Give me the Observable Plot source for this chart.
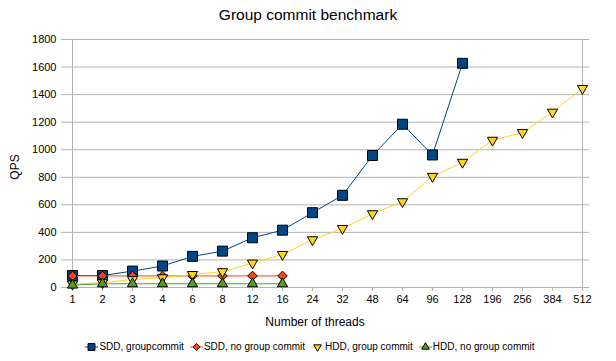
<!DOCTYPE html>
<html><head><meta charset="utf-8">
<script src="https://cdn.jsdelivr.net/npm/d3@7"></script>
<script src="https://cdn.jsdelivr.net/npm/@observablehq/plot@0.6"></script>
<style>
body{margin:0;background:#fff;font-family:"Liberation Sans",Arial,sans-serif;color:#000;}
#wrap{position:relative;width:616px;height:361px;overflow:hidden;}
#chart{position:absolute;left:0;top:0;}
.lbl{position:absolute;white-space:nowrap;}
#title{left:0;top:6px;width:616px;text-align:center;font-size:15.5px;}
#xlabel{left:0;top:315px;width:630px;text-align:center;font-size:12px;}
#ylabel{left:15px;top:167px;font-size:12px;transform:translate(-50%,-50%) rotate(-90deg);}
#legend{position:absolute;left:0;top:341px;width:616px;display:flex;justify-content:center;font-size:10px;line-height:12px;padding-left:2px;}
.item{display:flex;align-items:center;margin:0 3px;}
.item svg{margin-right:1px;}
</style></head><body>
<div id="wrap">
  <div id="chart"></div>
  <div id="title" class="lbl">Group commit benchmark</div>
  <div id="xlabel" class="lbl">Number of threads</div>
  <div id="ylabel" class="lbl">QPS</div>
  <div id="legend"></div>
</div>
<script>
const threads = ["1","2","3","4","6","8","12","16","24","32","48","64","96","128","196","256","384","512"];
const yTicks = [0,200,400,600,800,1000,1200,1400,1600,1800];
const seriesNames = ["SDD, groupcommit","SDD, no group commit","HDD, group commit","HDD, no group commit"];
const sddGroup   = [87, 87, 119, 156, 226, 264, 361, 416, 543, 669, 958, 1185, 962, 1627];
const sddNoGroup = [84, 84, 84, 84, 84, 84, 84, 84];
const hddGroup   = [25, 35, 58, 71, 95, 115, 178, 240, 347, 429, 536, 623, 807, 909, 1069, 1125, 1273, 1445];
const hddNoGroup = [17, 27, 27, 27, 27, 27, 27, 27];

const styles = [
  {color:"#004586", symbol:"square",   r:5.64, rotate:0,   lr:3.9},
  {color:"#ff420e", symbol:"diamond2", r:4.3,  rotate:0,   lr:3.2},
  {color:"#ffd320", symbol:"triangle", r:3.8,  rotate:180, lr:2.8},
  {color:"#579d1c", symbol:"triangle", r:3.8,  rotate:0,   lr:2.8}
];
const allValues = [sddGroup, sddNoGroup, hddGroup, hddNoGroup];
const rows = allValues.map((vals, k) => vals.map((v, i) => ({t: threads[i], v, s: seriesNames[k]})));

const grid = "#b3b3b3";
const marks = [
  Plot.gridY(yTicks, {stroke: grid, strokeOpacity: 1}),
  Plot.ruleX([threads[0], threads[threads.length-1]], {stroke: grid}),
  Plot.axisY(yTicks, {tickSize: 4, tickPadding: 5, stroke: grid, fill: "#000", fontSize: 11, label: null, tickFormat: d => String(d)}),
  Plot.axisX({tickSize: 4, tickPadding: 4, stroke: grid, fill: "#000", fontSize: 11, label: null})
];
rows.forEach((data, k) => {
  const st = styles[k];
  marks.push(Plot.line(data, {x: "t", y: "v", stroke: st.color, strokeWidth: 1}));
  marks.push(Plot.dot(data, {x: "t", y: "v", symbol: st.symbol, r: st.r, rotate: st.rotate,
    fill: st.color, stroke: "#000", strokeWidth: 1}));
});

const chart = Plot.plot({
  width: 616, height: 361,
  marginTop: 39, marginBottom: 74, marginLeft: 65, marginRight: 27,
  style: {fontFamily: '"Liberation Sans", Arial, sans-serif', background: "transparent"},
  x: {type: "point", domain: threads, padding: 0},
  y: {domain: [0, 1800]},
  marks
});
document.getElementById("chart").appendChild(chart);

// legend
const symMap = {square: d3.symbolSquare, diamond2: d3.symbolDiamond2, triangle: d3.symbolTriangle};
const legend = d3.select("#legend");
seriesNames.forEach((name, k) => {
  const st = styles[k];
  const it = legend.append("div").attr("class", "item");
  const svg = it.append("svg").attr("width", 13).attr("height", 10);
  svg.append("line").attr("x1", 0).attr("x2", 13).attr("y1", 5).attr("y2", 5).attr("stroke", st.color);
  svg.append("path")
    .attr("d", d3.symbol(symMap[st.symbol], Math.PI * st.lr * st.lr)())
    .attr("transform", `translate(6.5,5) rotate(${st.rotate})`)
    .attr("fill", st.color).attr("stroke", "#000").attr("stroke-width", 1);
  it.append("span").text(name);
});
</script>
</body></html>
